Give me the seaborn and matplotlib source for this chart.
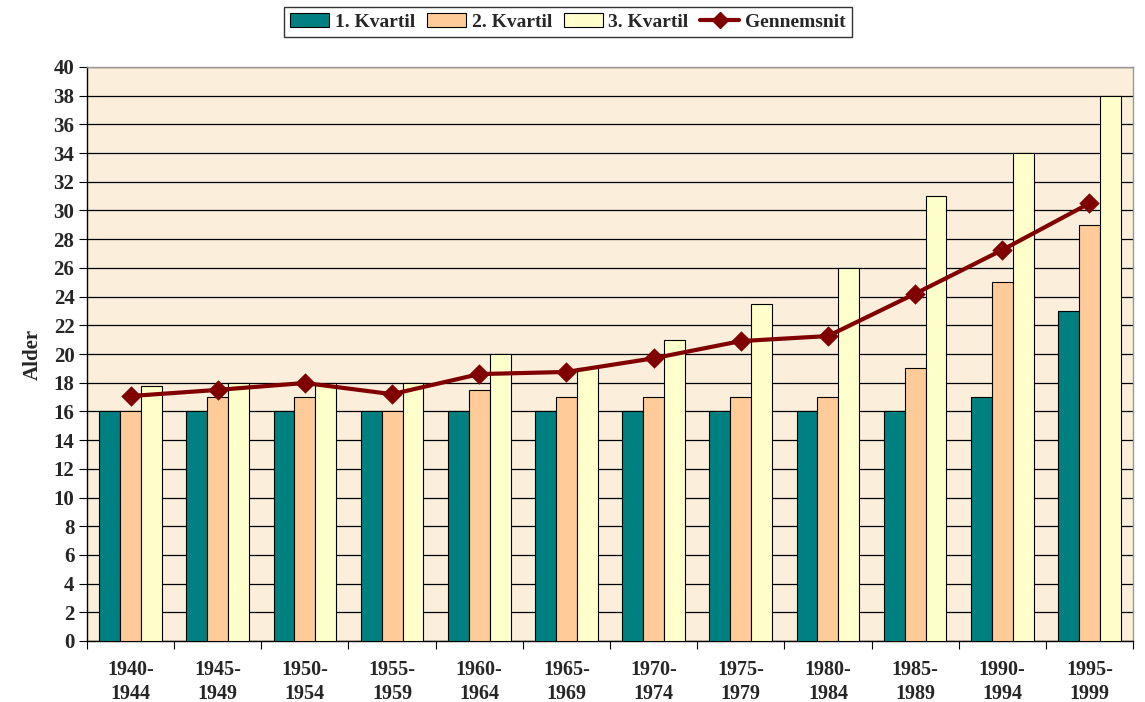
import numpy as np
import pandas as pd
import matplotlib
matplotlib.use("Agg")
import matplotlib.pyplot as plt
import seaborn as sns
from matplotlib.ticker import MultipleLocator, FixedLocator
from matplotlib.patches import Patch
from matplotlib.lines import Line2D

periods = ["1940-\n1944", "1945-\n1949", "1950-\n1954", "1955-\n1959", "1960-\n1964", "1965-\n1969",
           "1970-\n1974", "1975-\n1979", "1980-\n1984", "1985-\n1989", "1990-\n1994", "1995-\n1999"]
q1 = [16, 16, 16, 16, 16, 16, 16, 16, 16, 16, 17, 23]
q2 = [16, 17, 17, 16, 17.5, 17, 17, 17, 17, 19, 25, 29]
q3 = [17.8, 18, 18, 18, 20, 19, 21, 23.5, 26, 31, 34, 38]
mean = [17.07, 17.5, 17.98, 17.2, 18.6, 18.75, 19.7, 20.9, 21.25, 24.2, 27.25, 30.5]
series_names = ["1. Kvartil", "2. Kvartil", "3. Kvartil"]
mean_name = "Gennemsnit"

sns.set_style("white")
plt.rcParams['font.family'] = ['Liberation Serif', 'DejaVu Serif']
plt.rcParams['font.weight'] = 'bold'

df = pd.DataFrame({
    "Periode": periods * 3,
    "Alder": q1 + q2 + q3,
    "Serie": [series_names[0]] * 12 + [series_names[1]] * 12 + [series_names[2]] * 12,
})
colors = ["#008080", "#FFCC99", "#FFFFCC"]

fig = plt.figure(figsize=(11.45, 7.02), dpi=100)
ax = fig.add_axes([87 / 1145, 1 - 641 / 702, (1133 - 87) / 1145, (641 - 67) / 702])
ax.set_facecolor("#FBEEDA")

sns.barplot(data=df, x="Periode", y="Alder", hue="Serie", palette=colors, width=0.72,
            edgecolor="black", linewidth=0.8, ax=ax, zorder=3, legend=False, saturation=1)
sns.pointplot(x=periods, y=mean, color="#800000", markers="D", markersize=8,
              linewidth=3, ax=ax, zorder=5)

ax.set_ylim(0, 40)
ax.set_xlim(-0.5, 11.5)
ax.yaxis.set_major_locator(MultipleLocator(2))
ax.grid(axis="y", color="black", linewidth=0.9, zorder=0)
ax.set_axisbelow(True)
ax.tick_params(axis="y", direction="out", length=6, width=0.8, color="black", labelsize=15, pad=3, left=True)
ax.xaxis.set_minor_locator(FixedLocator(np.arange(-0.5, 12, 1)))
ax.tick_params(axis="x", which="major", length=0, labelsize=14.5, pad=14)
ax.tick_params(axis="x", which="minor", direction="out", length=6, width=0.8, color="black", bottom=True)
for lbl in ax.get_xticklabels():
    lbl.set_fontweight("bold")
    lbl.set_linespacing(1.25)
for lbl in ax.get_yticklabels():
    lbl.set_fontweight("bold")
ax.set_xlabel("")
ax.set_ylabel("Alder", fontsize=15, fontweight="bold", labelpad=8)
for s in ["left", "bottom"]:
    ax.spines[s].set_color("black")
    ax.spines[s].set_linewidth(1)
for s in ["top", "right"]:
    ax.spines[s].set_color("#999999")
    ax.spines[s].set_linewidth(1)

handles = [Patch(facecolor=c, edgecolor="black", linewidth=0.8) for c in colors]
handles.append(Line2D([0], [0], color="#800000", linewidth=3, marker="D", markersize=8))
leg = fig.legend(handles, series_names + [mean_name], loc="center", bbox_to_anchor=(568 / 1145, 1 - 22 / 702),
                 ncol=4, frameon=True, fancybox=False, edgecolor="black",
                 handlelength=2.0, handletextpad=0.3, columnspacing=0.6, borderpad=0.3,
                 prop={"weight": "bold", "size": 14})
leg.get_frame().set_linewidth(1)

fig.savefig("out.png", dpi=100, facecolor="white")
